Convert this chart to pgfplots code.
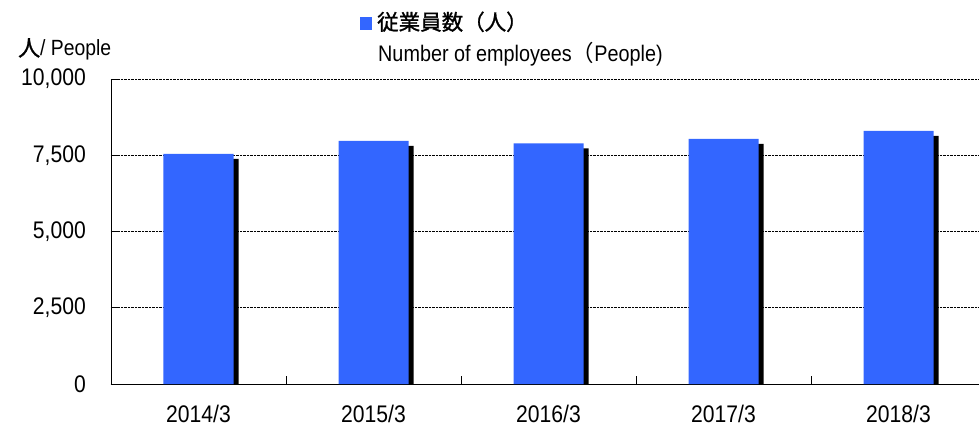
\documentclass[border=0pt]{standalone}
\usepackage{pgfplots}
\pgfplotsset{compat=1.18}
\usepackage{fontspec}
\setmainfont[FakeStretch=0.88]{Liberation Sans}
\newfontfamily\cjk{Noto Sans CJK JP}
\newfontfamily\cjkb[FakeBold=1.2]{Noto Sans CJK JP}
\definecolor{barblue}{RGB}{51,102,255}
\begin{document}
\begin{tikzpicture}
\begin{axis}[
  scale only axis,
  width=868pt, height=305pt,
  xmin=-0.5, xmax=4.46,
  ymin=0, ymax=10000,
  axis x line*=bottom, axis y line*=left,
  axis line style={black, line width=0.9pt},
  ytick={0,2500,5000,7500,10000},
  scaled y ticks=false,
  /pgf/number format/assume math mode=true,
  /pgf/number format/1000 sep={,},
  ymajorgrids,
  major grid style={densely dotted, black, line width=0.7pt},
  tick align=inside,
  major tick length=8pt,
  tick style={black, line width=0.8pt},
  xtick={0.5,1.5,2.5,3.5},
  xticklabels={},
  extra x ticks={0,1,2,3,4},
  extra x tick labels={2014/3,2015/3,2016/3,2017/3,2018/3},
  extra x tick style={major tick length=0pt, grid=none},
  tick label style={font=\fontsize{24}{27}\selectfont},
  yticklabel style={anchor=east, inner sep=0pt, xshift=-25pt},
  xticklabel style={anchor=north, inner sep=0pt, yshift=-21pt},
  clip=true,
]
\addplot[ybar, bar width=70pt, fill=barblue, draw=none,
  preaction={fill=black, transform canvas={shift={(5pt,-5pt)}}}]
  coordinates {(0,7546) (1,7972) (2,7893) (3,8035) (4,8297)};
\end{axis}
\node[anchor=base west, inner sep=0pt] at (249pt,354pt)
  {\textcolor{barblue}{\rule{12pt}{13pt}}\hspace{5pt}\cjkb\fontsize{21.5}{24}\selectfont 従業員数（人）};
\node[anchor=base west, inner sep=0pt] at (267pt,322pt)
  {\fontsize{22.5}{25}\selectfont Number of employees{\cjk（}People)};
\node[anchor=base west, inner sep=0pt] at (-93pt,328pt)
  {\fontsize{22}{25}\selectfont{\cjkb 人}/ People};
\pgfresetboundingbox
\path[use as bounding box] (-111pt,-42pt) rectangle (868pt,384pt);
\end{tikzpicture}
\end{document}
